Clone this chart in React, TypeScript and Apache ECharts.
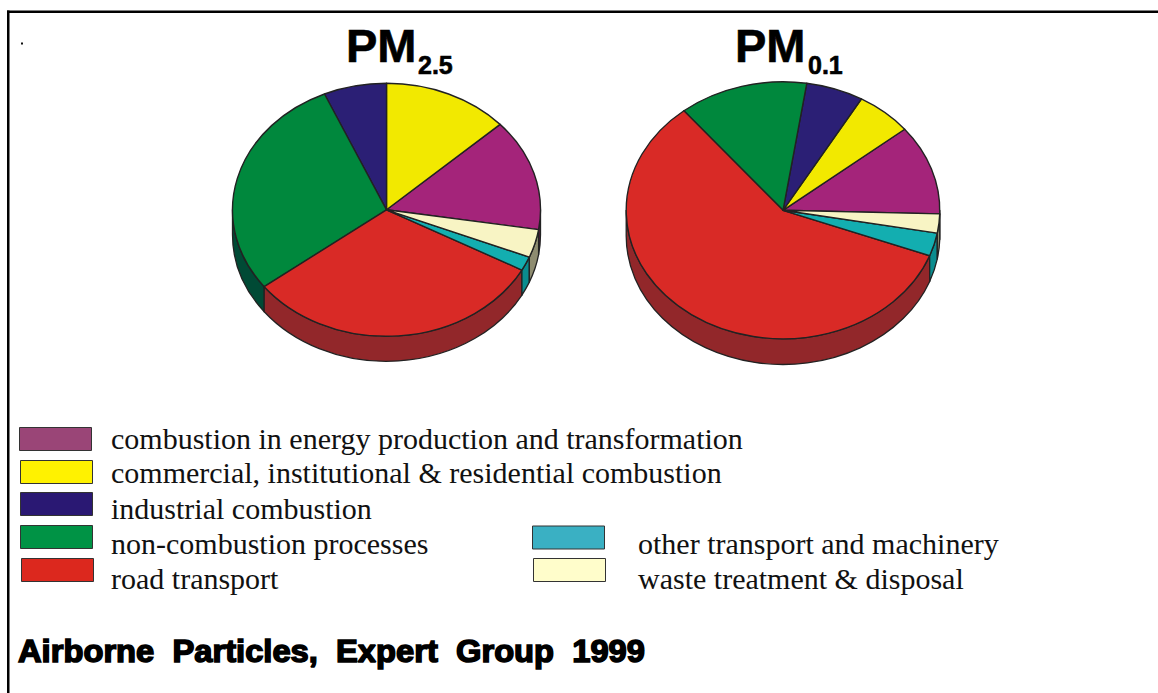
import React, { useEffect, useRef } from "react";
import * as echarts from "echarts";

const categories = [
  "combustion in energy production and transformation",
  "commercial, institutional & residential combustion",
  "industrial combustion",
  "non-combustion processes",
  "road transport",
  "other transport and machinery",
  "waste treatment & disposal",
];
const pm25Values = [14.3, 13.2, 6.6, 28.8, 31.7, 1.8, 3.6];
const pm01Values = [11.3, 5.8, 5.9, 13.3, 58.3, 2.9, 2.4];
const topColors = ["#A4247A", "#F2E900", "#2B1F75", "#00883D", "#D92A26", "#13AEB0", "#F8F4C4"];
const sideColors = ["#6A1A52", "#8E8A10", "#1C1550", "#004A35", "#92272A", "#0B8C8E", "#8E8C70"];
const swatchColors = ["#9A4577", "#FFF200", "#2A1873", "#009345", "#DC281E", "#3AB0C3", "#FFFDCB"];
const swatchBoxes = [
  [19.5, 427.5], [20.5, 460.5], [20.5, 492.5], [20.5, 525.5], [21.5, 558.5], [532.5, 526], [533.5, 558.5],
];
const labelPositions = [
  [111, 447.7], [111, 481.2], [111, 517.5], [111, 552.3], [111, 587.2], [638, 552.5], [638, 587.2],
];

const TAU = Math.PI * 2;

function pieSeries(name: string, values: number[], cx: number, cy: number, rx: number, ry: number, depth: number, startDeg: number) {
  const total = values.reduce((a, b) => a + b, 0);
  const starts: number[] = [];
  let acc = startDeg;
  values.forEach((v) => {
    starts.push(acc);
    acc -= (v / total) * 360;
  });
  const pt = (deg: number, dy = 0) => {
    const a = (deg * TAU) / 360;
    return [cx + rx * Math.sin(a), cy - ry * Math.cos(a) + dy];
  };
  const fmt = (p: number[]) => `${p[0].toFixed(2)} ${p[1].toFixed(2)}`;
  return {
    type: "custom",
    name,
    coordinateSystem: "none",
    silent: true,
    data: values.map((v) => [v]),
    renderItem: (params: any, api: any) => {
      const i = params.dataIndex;
      const from = starts[i];
      const to = from - (api.value(0) / total) * 360;
      const children: any[] = [];
      // Visible wall: portion of the slice on the front half (90..270 clockwise from top)
      for (const shift of [-360, 0, 360]) {
        const hi = Math.min(from + shift, 270);
        const lo = Math.max(to + shift, 90);
        if (hi > lo) {
          const large = hi - lo > 180 ? 1 : 0;
          const d =
            `M${fmt(pt(lo))}A${rx} ${ry} 0 ${large} 1 ${fmt(pt(hi))}` +
            `L${fmt(pt(hi, depth))}A${rx} ${ry} 0 ${large} 0 ${fmt(pt(lo, depth))}Z`;
          children.push({
            type: "path",
            shape: { pathData: d },
            style: { fill: sideColors[i], stroke: "#222", lineWidth: 1.3, lineJoin: "round" },
          });
        }
      }
      const large = from - to > 180 ? 1 : 0;
      const d = `M${cx} ${cy}L${fmt(pt(to))}A${rx} ${ry} 0 ${large} 1 ${fmt(pt(from))}Z`;
      children.push({
        type: "path",
        shape: { pathData: d },
        style: { fill: topColors[i], stroke: "#222", lineWidth: 1.4, lineJoin: "round" },
      });
      return { type: "group", children };
    },
  };
}

export default function App() {
  const ref = useRef<HTMLDivElement>(null);
  useEffect(() => {
    const chart = echarts.init(ref.current!, null, { renderer: "svg" });
    const bold = "bold 47px 'Liberation Sans'";
    const sub = "bold 25px 'Liberation Sans'";
    const ink = { fill: "#000", stroke: "#000", lineWidth: 0.6, textVerticalAlign: "bottom" };
    const graphic: any[] = [
      { type: "rect", shape: { x: 7, y: 10.5, width: 1151, height: 2.5 }, style: { fill: "#000" } },
      { type: "rect", shape: { x: 7, y: 10.5, width: 2.5, height: 682.5 }, style: { fill: "#000" } },
      { type: "rect", shape: { x: 21, y: 42.5, width: 2, height: 2 }, style: { fill: "#111" } },
      { type: "text", x: 346, y: 68.5, style: { text: "PM", font: bold, ...ink } },
      { type: "text", x: 418, y: 77, style: { text: "2.5", font: sub, ...ink } },
      { type: "text", x: 735, y: 68.5, style: { text: "PM", font: bold, ...ink } },
      { type: "text", x: 808, y: 77, style: { text: "0.1", font: sub, ...ink } },
      {
        type: "text", x: 18, y: 667, scaleX: 1.055,
        style: {
          text: "Airborne  Particles,  Expert  Group  1999",
          font: "bold 31px 'Liberation Sans'",
          fill: "#000", stroke: "#000", lineWidth: 1.5, textVerticalAlign: "bottom",
        },
      },
    ];
    categories.forEach((c, i) => {
      const [x, y] = swatchBoxes[i];
      graphic.push({
        type: "rect",
        shape: { x, y, width: 72, height: 23 },
        style: { fill: swatchColors[i], stroke: "#333", lineWidth: 1 },
      });
      graphic.push({
        type: "text",
        x: labelPositions[i][0],
        y: labelPositions[i][1] + 6,
        style: { text: c, font: "30px 'Liberation Serif'", fill: "#111", textVerticalAlign: "bottom" },
      });
    });
    chart.setOption({
      animation: false,
      backgroundColor: "#fff",
      graphic,
      series: [
        pieSeries("PM2.5", pm25Values, 386.5, 209.8, 154, 126.5, 25, 99),
        pieSeries("PM0.1", pm01Values, 783, 210.3, 156.8, 128.5, 25.7, 91.6),
      ],
    });
    return () => chart.dispose();
  }, []);
  return <div ref={ref} style={{ position: "absolute", left: 0, top: 0, width: 1158, height: 693 }} />;
}
